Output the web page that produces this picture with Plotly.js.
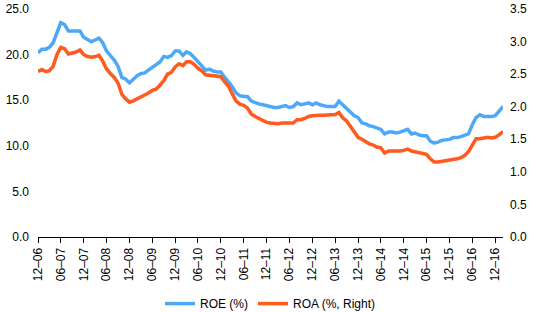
<!DOCTYPE html>
<html>
<head>
<meta charset="utf-8">
<script src="https://cdn.plot.ly/plotly-3.0.1.min.js"></script>
<style>html,body{margin:0;padding:0;background:#fff;}#chart{width:535px;height:312px;}</style>
</head>
<body>
<div id="chart"></div>
<script>
// Monthly data, Dec 2006 .. Feb 2017
var startMonth = '2006-12-01';
var roe = [20.2,20.6,20.6,20.8,21.3,22.4,23.5,23.3,22.6,22.6,22.6,22.6,
21.9,21.6,21.4,21.6,21.8,21.3,20.4,19.9,19.4,18.7,17.5,17.3,
16.9,17.3,17.7,17.9,18.0,18.3,18.6,18.8,19.2,19.8,19.7,19.9,
20.4,20.4,19.9,20.3,20.1,19.7,19.2,18.8,18.3,18.4,18.2,18.1,
18.1,17.5,17.0,16.5,15.8,15.5,15.4,15.4,14.9,14.7,14.6,14.5,
14.4,14.3,14.2,14.2,14.3,14.4,14.2,14.3,14.7,14.5,14.6,14.7,
14.5,14.7,14.5,14.4,14.3,14.3,14.3,14.9,14.5,14.2,13.7,13.3,
13.1,12.5,12.4,12.2,12.1,12.0,11.8,11.3,11.5,11.5,11.4,11.5,
11.6,11.8,11.3,11.4,11.2,11.1,11.1,10.5,10.3,10.4,10.6,10.7,
10.7,10.9,10.9,11.0,11.2,11.3,12.3,13.1,13.4,13.2,13.2,13.2,
13.3,13.8,14.3];
var roa = [2.54,2.57,2.54,2.55,2.62,2.80,2.91,2.89,2.81,2.82,2.84,2.87,
2.80,2.77,2.76,2.77,2.79,2.70,2.58,2.51,2.45,2.36,2.19,2.12,
2.07,2.09,2.12,2.15,2.17,2.21,2.25,2.27,2.33,2.40,2.50,2.53,
2.61,2.66,2.63,2.69,2.69,2.65,2.59,2.55,2.49,2.48,2.47,2.47,
2.46,2.38,2.31,2.20,2.09,2.04,2.02,1.98,1.89,1.85,1.82,1.78,
1.76,1.75,1.74,1.74,1.75,1.75,1.74,1.75,1.80,1.80,1.82,1.85,
1.86,1.87,1.87,1.87,1.87,1.87,1.88,1.91,1.83,1.78,1.70,1.61,
1.53,1.50,1.46,1.43,1.41,1.38,1.37,1.29,1.32,1.32,1.31,1.32,
1.33,1.35,1.32,1.31,1.29,1.28,1.27,1.20,1.15,1.15,1.16,1.17,
1.17,1.18,1.20,1.22,1.25,1.31,1.42,1.51,1.51,1.52,1.53,1.52,
1.53,1.57,1.62];
var tickLabels = ['12\u201306','06\u201307','12\u201307','06\u201308','12\u201308','06\u201309','12\u201309',
'06\u201310','12\u201310','06\u201311','12\u201311','06\u201312','12\u201312','06\u201313','12\u201313',
'06\u201314','12\u201314','06\u201315','12\u201315','06\u201316','12\u201316'];
var seriesNames = ['ROE (%)', 'ROA (%, Right)'];

function monthDate(i) {
  var y = 2006, m = 12 + i; // month number starting Dec 2006
  y += Math.floor((m - 1) / 12);
  m = ((m - 1) % 12) + 1;
  return y + '-' + (m < 10 ? '0' + m : m) + '-01';
}
var dates = roe.map(function(_, i){ return monthDate(i); });
var tickVals = tickLabels.map(function(_, k){ return monthDate(k * 6); });

var traces = [
  {x: dates, y: roe, name: seriesNames[0], type: 'scatter', mode: 'lines',
   line: {color: '#4DA9F7', width: 3.5}, yaxis: 'y'},
  {x: dates, y: roa, name: seriesNames[1], type: 'scatter', mode: 'lines',
   line: {color: '#FF5A1F', width: 3.5}, yaxis: 'y2'}
];

var font = {family: 'Liberation Sans, Arial, sans-serif', size: 12, color: '#000'};
var layout = {
  width: 535, height: 312,
  margin: {l: 38, r: 32, t: 9, b: 75, pad: 0, autoexpand: false},
  paper_bgcolor: '#fff', plot_bgcolor: '#fff',
  font: font,
  showlegend: true,
  legend: {orientation: 'h', x: 0.5, xanchor: 'center', y: -0.292, yanchor: 'middle',
           font: {family: font.family, size: 12, color: '#000'}, itemwidth: 30, tracegroupgap: 0},
  xaxis: {
    type: 'date', automargin: false,
    range: [dates[0], dates[dates.length - 1]],
    tickmode: 'array', tickvals: tickVals, ticktext: tickLabels,
    tickangle: -90, ticks: 'outside', ticklen: 5, tickcolor: '#000', tickwidth: 1,
    showline: true, linecolor: '#000', linewidth: 1,
    showgrid: false, zeroline: false, tickfont: {size: 12}
  },
  yaxis: {
    range: [0, 25], dtick: 5, tick0: 0, tickformat: '.1f', automargin: false,
    showgrid: false, zeroline: false, showline: false, ticks: '',
    ticklabelstandoff: 8, tickfont: {size: 12}
  },
  yaxis2: {
    range: [0, 3.5], dtick: 0.5, tick0: 0, tickformat: '.1f', automargin: false,
    overlaying: 'y', side: 'right',
    showgrid: false, zeroline: false, showline: false, ticks: '',
    ticklabelstandoff: 6, tickfont: {size: 12}
  }
};

Plotly.newPlot('chart', traces, layout, {displayModeBar: false, staticPlot: true});
</script>
</body>
</html>
